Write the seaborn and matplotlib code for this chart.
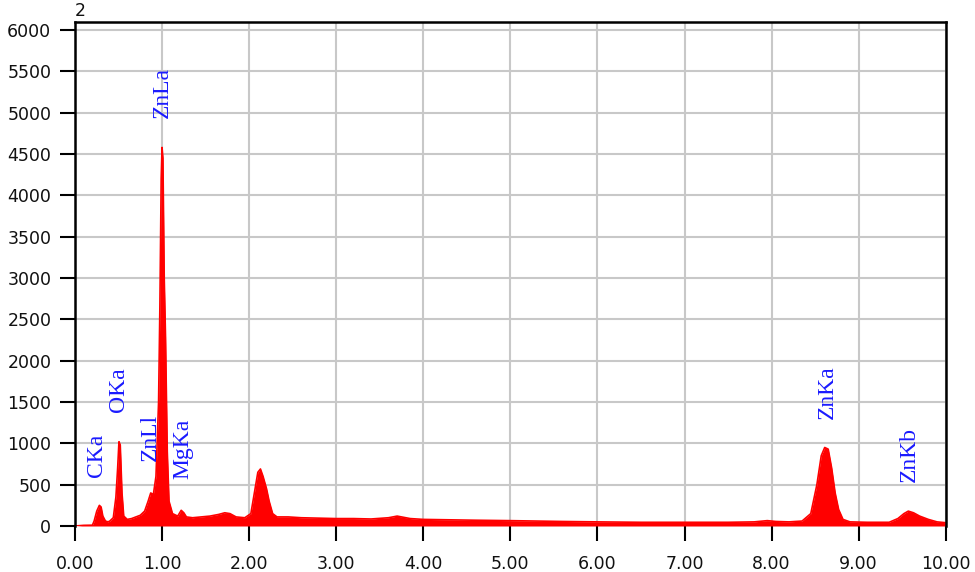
import matplotlib
matplotlib.use("Agg")
import numpy as np
import pandas as pd
import seaborn as sns
import matplotlib.pyplot as plt

# Spectrum (energy in keV, counts)
energy_kev = [0.00, 0.10, 0.20, 0.22, 0.25, 0.28, 0.30, 0.32, 0.35, 0.38,
              0.40, 0.44, 0.47, 0.49, 0.505, 0.52, 0.54, 0.56, 0.60, 0.65,
              0.70, 0.75, 0.80, 0.84, 0.87, 0.90, 0.93, 0.96, 0.975, 0.99,
              1.00, 1.01, 1.025, 1.04, 1.06, 1.08, 1.12, 1.18, 1.22, 1.25,
              1.28, 1.35, 1.45, 1.55, 1.65, 1.72, 1.78, 1.85, 1.95, 2.02,
              2.06, 2.10, 2.13, 2.16, 2.20, 2.23, 2.27, 2.32, 2.45, 2.60,
              2.80, 3.00, 3.20, 3.40, 3.60, 3.70, 3.75, 3.85, 4.00, 4.30,
              4.60, 5.00, 5.30, 5.60, 6.00, 6.50, 7.00, 7.50, 7.80, 7.95,
              8.05, 8.20, 8.35, 8.45, 8.52, 8.57, 8.61, 8.65, 8.69, 8.73,
              8.77, 8.82, 8.90, 9.10, 9.35, 9.45, 9.52, 9.57, 9.63, 9.70,
              9.80, 9.90, 10.00]
counts = [0, 8, 10, 60, 180, 250, 230, 120, 60, 50,
          60, 100, 350, 700, 1020, 980, 400, 120, 80, 90,
          110, 130, 180, 300, 400, 380, 600, 1500, 2650, 4200,
          4580, 4450, 3000, 2280, 900, 300, 150, 120, 190, 160,
          110, 100, 110, 120, 140, 160, 150, 110, 100, 150,
          400, 650, 690, 600, 450, 300, 150, 110, 110, 100,
          95, 90, 90, 85, 100, 120, 110, 90, 80, 75,
          70, 65, 60, 55, 50, 45, 45, 45, 50, 65,
          55, 50, 60, 150, 500, 850, 950, 930, 700, 400,
          200, 80, 50, 45, 45, 90, 150, 180, 160, 120,
          80, 50, 40]

# Peak labels: name, energy, bottom of the text in counts
peak_names = ["CKa", "OKa", "ZnLl", "MgKa", "ZnLa", "ZnKa", "ZnKb"]
peak_x = [0.25, 0.50, 0.87, 1.24, 1.00, 8.64, 9.58]
peak_y = [590, 1380, 790, 570, 4940, 1290, 530]

df = pd.DataFrame({"Energy": energy_kev, "Counts": counts})

sns.set_style("white")
fig = plt.figure(figsize=(9.75, 5.72), dpi=100)
ax = fig.add_axes([0.0769, 0.0804, 0.8931, 0.8811])

ax.fill_between(df["Energy"], 0, df["Counts"], color="#ff0000", linewidth=0)
sns.lineplot(data=df, x="Energy", y="Counts", color="#ff0000", linewidth=1.2, ax=ax)

for name, x, y in zip(peak_names, peak_x, peak_y):
    ax.text(x, y, name, rotation=90, ha="center", va="bottom", color="#1a1aff",
            fontsize=17, family=["Liberation Serif", "DejaVu Serif"])

ax.text(0.0, 1.004, "2", transform=ax.transAxes, ha="left", va="bottom",
        fontsize=12.5, color="#111111")

ax.set_xlim(0, 10)
ax.set_ylim(0, 6097)
ax.set_xticks(np.arange(0, 10.5, 1.0))
ax.set_xticklabels([f"{v:.2f}" for v in np.arange(0, 10.5, 1.0)])
ax.set_yticks(np.arange(0, 6001, 500))
ax.grid(True, color="#c8c8c8", linewidth=1.5)
ax.set_axisbelow(True)
ax.set_xlabel("")
ax.set_ylabel("")
ax.tick_params(axis="both", direction="out", length=11, width=1.5, color="black",
               labelsize=12.5, labelcolor="#111111", bottom=True, left=True)
ax.tick_params(axis="x", pad=10)
ax.tick_params(axis="y", pad=6)
for side in ["left", "top", "right"]:
    ax.spines[side].set_color("black")
    ax.spines[side].set_linewidth(1.8)
ax.spines["bottom"].set_visible(False)

fig.savefig("out.png", dpi=100)
